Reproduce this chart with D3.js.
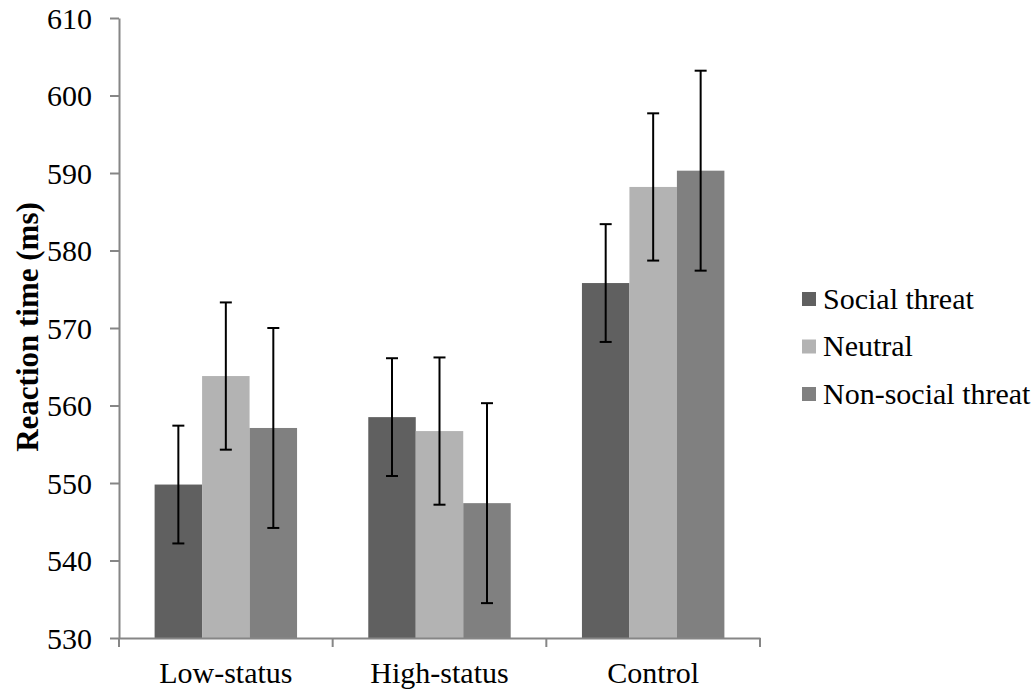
<!DOCTYPE html>
<html><head><meta charset="utf-8">
<script src="https://cdn.jsdelivr.net/npm/d3@7"></script>
<style>body{margin:0;background:#fff}svg{display:block}</style>
</head><body><svg id="c" width="1036" height="691"></svg>
<script>
const categories = ["Low-status", "High-status", "Control"];
const series = ["Social threat", "Neutral", "Non-social threat"];
const colors = ["#606060", "#b3b3b3", "#808080"];
const socialThreat = [549.8, 558.5, 575.8];
const neutral = [563.8, 556.7, 588.2];
const nonSocialThreat = [557.1, 547.4, 590.3];
const errSocialThreat = [7.6, 7.6, 7.6];
const errNeutral = [9.5, 9.5, 9.5];
const errNonSocialThreat = [12.9, 12.9, 12.9];
const yTicks = [530, 540, 550, 560, 570, 580, 590, 600, 610];

const values = [socialThreat, neutral, nonSocialThreat];
const errs = [errSocialThreat, errNeutral, errNonSocialThreat];
const FONT = "'Liberation Serif', 'Times New Roman', Times, serif";

const svg = d3.select("#c");
const mLeft = 119, mRight = 760, mTop = 18, mBottom = 638;
const x = d3.scaleBand().domain(categories).range([mLeft, mRight]).paddingInner(0).paddingOuter(0);
const inner = d3.scaleBand().domain(series).range([0, x.bandwidth()]).paddingInner(0).paddingOuter(0.75);
const y = d3.scaleLinear().domain([530, 610]).range([mBottom, mTop]);
const axisColor = "#868686";

// bars
categories.forEach((c, ci) => {
  series.forEach((s, si) => {
    svg.append("rect")
      .attr("x", x(c) + inner(s))
      .attr("y", y(values[si][ci]))
      .attr("width", inner.bandwidth())
      .attr("height", y(530) - y(values[si][ci]))
      .attr("fill", colors[si]);
  });
});

// y axis
const yAxis = svg.append("g").attr("transform", `translate(${mLeft},0)`)
  .call(d3.axisLeft(y).tickValues(yTicks).tickSize(9).tickPadding(18).tickSizeOuter(0));
yAxis.attr("font-family", null).attr("font-size", null);
yAxis.select(".domain").attr("stroke", axisColor).attr("stroke-width", 2);
yAxis.selectAll(".tick line").attr("stroke", axisColor).attr("stroke-width", 2);
yAxis.selectAll(".tick text").attr("fill", "#000").style("font-family", FONT).style("font-size", "30px").attr("dy", "0.34em");

// x axis
const xAxis = svg.append("g").attr("transform", `translate(0,${mBottom})`)
  .call(d3.axisBottom(x).tickSize(0).tickPadding(24));
xAxis.attr("font-family", null).attr("font-size", null);
xAxis.select(".domain").attr("stroke", axisColor).attr("stroke-width", 2);
xAxis.selectAll(".tick text").attr("fill", "#000").style("font-family", FONT).style("font-size", "30px");
const bounds = [mLeft].concat(categories.map(c => x(c) + x.bandwidth()));
svg.selectAll(".xt").data(bounds).enter().append("line")
  .attr("x1", d => d).attr("x2", d => d).attr("y1", mBottom).attr("y2", mBottom + 9)
  .attr("stroke", axisColor).attr("stroke-width", 2);

// error bars
categories.forEach((c, ci) => {
  series.forEach((s, si) => {
    const cx = x(c) + inner(s) + inner.bandwidth() / 2;
    const v = values[si][ci], e = errs[si][ci];
    const g = svg.append("g").attr("stroke", "#000").attr("stroke-width", 2);
    g.append("line").attr("x1", cx).attr("x2", cx).attr("y1", y(v + e)).attr("y2", y(v - e));
    g.append("line").attr("x1", cx - 6).attr("x2", cx + 6).attr("y1", y(v + e)).attr("y2", y(v + e));
    g.append("line").attr("x1", cx - 6).attr("x2", cx + 6).attr("y1", y(v - e)).attr("y2", y(v - e));
  });
});

// y title
svg.append("text").attr("transform", "translate(38,327) rotate(-90)")
  .attr("text-anchor", "middle").style("font-family", FONT).style("font-size", "31px").style("font-weight", "bold")
  .text("Reaction time (ms)");

// legend
const lg = svg.append("g").attr("transform", "translate(802,299)");
series.forEach((s, i) => {
  const row = lg.append("g").attr("transform", `translate(0,${i * 47.5})`);
  row.append("rect").attr("x", 0).attr("y", -7).attr("width", 14).attr("height", 14).attr("fill", colors[i]);
  row.append("text").attr("x", 21).attr("y", 0).attr("dy", "0.33em").style("font-family", FONT).style("font-size", "30px").text(s);
});
</script></body></html>
